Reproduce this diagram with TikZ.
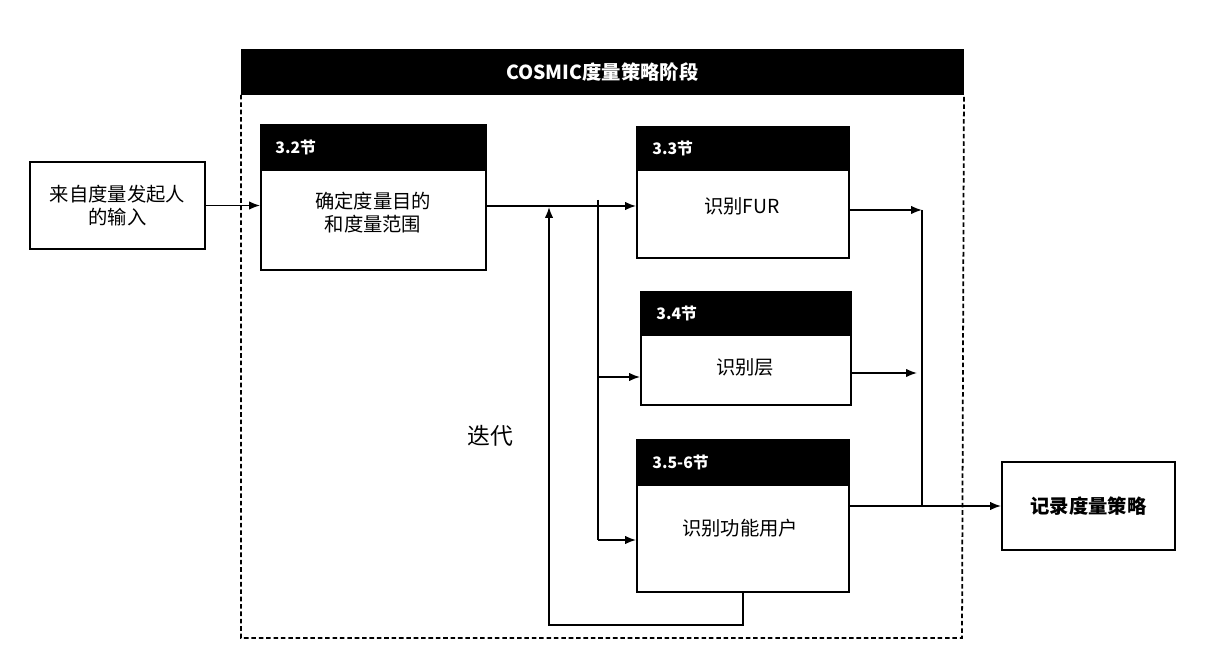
\documentclass[tikz,border=0pt]{standalone}
\usepackage{fontspec}
\newfontfamily\cjk{Noto Sans CJK SC}
\usetikzlibrary{arrows.meta,positioning}

\tikzset{
    plainbox/.style={draw=borderColour, line width=1.1pt, fill=white, inner sep=0pt},
    headbar/.style={fill=borderColour, draw=borderColour, line width=1.1pt, inner sep=0pt},
    headlabel/.style={text=white, inner sep=0pt, font=\cjk\bfseries\fontsize{9}{11}\selectfont},
    bodytext/.style={align=center, inner sep=0pt, font=\cjk\fontsize{11}{13}\selectfont},
    flow/.style={line width=0.9pt, ->},
}

\begin{document}
\begin{tikzpicture}[x=0.02cm, y=-0.02cm, >={Latex[length=2.2mm,width=1.7mm]}]
    \definecolor{borderColour}{HTML}{000000}

    \def\px{0.02cm}

    \useasboundingbox (0,0) rectangle (1226,668);

    % Stage frame
    \node[headbar, anchor=north west, minimum width=721*\px, minimum height=44*\px] (stage) at (241,49) {};
    \node[headlabel, font=\cjk\bfseries\fontsize{11}{13}\selectfont] (stageTitle) at (stage.center) {COSMIC度量策略阶段};
    \draw[line width=1pt, dash pattern=on 2.6pt off 1.6pt] (stage.south west) -- (241,638) -- (962,638) -- (stage.south east);

    % Input and output
    \node[plainbox, bodytext, minimum width=175*\px, minimum height=87*\px] (input) at (117.5,205.5) {来自度量发起人\\的输入};
    \node[plainbox, bodytext, font=\cjk\bfseries\fontsize{11}{13}\selectfont, minimum width=173*\px, minimum height=88*\px] (record) at (1088.5,506) {记录度量策略};

    % Section 3.2
    \node[plainbox, minimum width=225*\px, minimum height=145*\px] (b32) at (373.5,197.5) {};
    \node[headbar, anchor=north west, minimum width=225*\px, minimum height=45*\px] (h32) at (b32.north west) {};
    \node[headlabel, right=15*\px of h32.west] (l32) {3.2节};
    \node[bodytext] (t32) at (373,213) {确定度量目的\\和度量范围};

    % Section 3.3
    \node[plainbox, minimum width=212*\px, minimum height=131*\px] (b33) at (743,192.5) {};
    \node[headbar, anchor=north west, minimum width=212*\px, minimum height=43*\px] (h33) at (b33.north west) {};
    \node[headlabel, right=16*\px of h33.west] (l33) {3.3节};
    \node[bodytext] (t33) at (742,206) {识别FUR};

    % Section 3.4
    \node[plainbox, minimum width=210*\px, minimum height=113*\px] (b34) at (746,348.5) {};
    \node[headbar, anchor=north west, minimum width=210*\px, minimum height=43*\px] (h34) at (b34.north west) {};
    \node[headlabel, right=16*\px of h34.west] (l34) {3.4节};
    \node[bodytext] (t34) at (745,367) {识别层};

    % Section 3.5-6
    \node[plainbox, minimum width=212*\px, minimum height=152*\px] (b35) at (743,516) {};
    \node[headbar, anchor=north west, minimum width=212*\px, minimum height=45*\px] (h35) at (b35.north west) {};
    \node[headlabel, right=16*\px of h35.west] (l35) {3.5-6节};
    \node[bodytext] (t35) at (740,528) {识别功能用户};

    \node[bodytext, font=\cjk\fontsize{13}{15}\selectfont] (iterate) at (490,436) {迭代};

    % Connectors
    \coordinate (fanTop) at (598,200);
    \coordinate (fanMid) at (598,377);
    \coordinate (fanBot) at (598,540);
    \coordinate (loopTip) at (549,207);
    \coordinate (mergeTop) at (922,210);
    \coordinate (mergeMid) at (917,373);

    \draw[flow] (input) -- (input -| b32.west);
    \draw[flow] (b32.east |- t33) -- (b33.west |- t33);
    \draw[line width=0.9pt] (fanTop) -- (fanBot);
    \draw[flow] (fanMid) -- (fanMid -| b34.west);
    \draw[flow] (fanBot) -- (fanBot -| b35.west);
    \draw[flow] (b35.south) -- ++(0,32) -| (loopTip);

    \draw[flow] (b33.east |- mergeTop) -- (mergeTop);
    \draw[flow] (b34.east |- mergeMid) -- (mergeMid);
    \draw[line width=0.9pt] (mergeTop) -- (mergeTop |- record.west);
    \draw[flow] (b35.east |- record.west) -- (record.west);

\end{tikzpicture}
\end{document}
